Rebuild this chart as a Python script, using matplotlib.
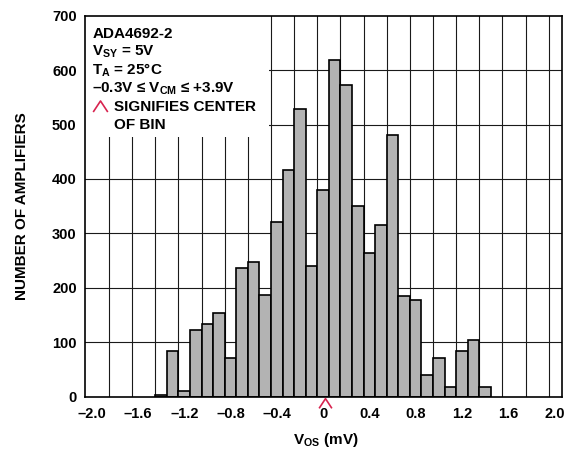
import numpy as np
import matplotlib
matplotlib.use("Agg")
import matplotlib.pyplot as plt
from matplotlib.path import Path
from matplotlib.patches import Rectangle
import matplotlib.transforms as mtransforms

# ---------------- data ----------------
bin_centers = [-1.4, -1.3, -1.2, -1.1, -1.0, -0.9, -0.8, -0.7, -0.6, -0.5,
               -0.4, -0.3, -0.2, -0.1, 0.0, 0.1, 0.2, 0.3, 0.4, 0.5,
               0.6, 0.7, 0.8, 0.9, 1.0, 1.1, 1.2, 1.3, 1.4]
counts = [3, 84, 11, 123, 133, 153, 71, 237, 248, 186,
          321, 417, 529, 241, 379, 618, 572, 351, 264, 316,
          481, 185, 177, 39, 72, 18, 84, 104, 17]
bin_width = 0.1
x_ticks = [-2.0, -1.6, -1.2, -0.8, -0.4, 0.0, 0.4, 0.8, 1.2, 1.6, 2.0]
x_tick_labels = ["–2.0", "–1.6", "–1.2", "–0.8", "–0.4", "0", "0.4", "0.8", "1.2", "1.6", "2.0"]
y_ticks = [0, 100, 200, 300, 400, 500, 600, 700]
info_lines = ["ADA4692-2",
              r"V$_{\mathrm{SY}}$ = 5V",
              r"T$_{\mathrm{A}}$ = 25°C",
              r"–0.3V ≤ V$_{\mathrm{CM}}$ ≤ +3.9V",
              "SIGNIFIES CENTER",
              "OF BIN"]
bin_center_marker = 0.0

# ---------------- style ----------------
plt.rcParams['font.family'] = ['Liberation Sans', 'DejaVu Sans']
plt.rcParams['font.weight'] = 'bold'
plt.rcParams['mathtext.fontset'] = 'custom'
plt.rcParams['mathtext.rm'] = 'Liberation Sans:bold'
plt.rcParams['mathtext.it'] = 'Liberation Sans:bold'
plt.rcParams['mathtext.bf'] = 'Liberation Sans:bold'

W, H = 573, 450
fig = plt.figure(figsize=(W / 100, H / 100), dpi=100)
L, R, T, B = 85, 562, 15.7, 396.7
ax = fig.add_axes([L / W, 1 - B / H, (R - L) / W, (B - T) / H])

ax.set_xlim(-2.058, 2.065)
ax.set_ylim(0, 700)

# grid
for gx in np.arange(-1.85, 2.0, 0.2):
    ax.axvline(gx, color='#1a1a1a', lw=0.8, zorder=0.5)
for gy in y_ticks[1:-1]:
    ax.axhline(gy, color='#1a1a1a', lw=0.8, zorder=0.5)

# white box behind the annotation text
ax.add_patch(Rectangle((-2.1, 477), 1.63, 230, facecolor='white',
                       edgecolor='none', zorder=1.5))

# bars
ax.bar(bin_centers, counts, width=bin_width, color='#b3b3b3',
       edgecolor='black', linewidth=1.2, zorder=2)

# frame
for s in ax.spines.values():
    s.set_linewidth(1.2)
    s.set_color('black')
    s.set_zorder(4)

ax.set_xticks(x_ticks)
ax.set_xticklabels(x_tick_labels)
ax.set_yticks(y_ticks)
ax.tick_params(axis='both', length=0, labelsize=10.5)
ax.tick_params(axis='x', pad=7.5)
ax.tick_params(axis='y', pad=6)

# caret marker
caret = Path([(-1, -0.76), (0, 0.76), (1, -0.76)],
             [Path.MOVETO, Path.LINETO, Path.LINETO])
crimson = '#d8234f'
trans = mtransforms.offset_copy(ax.get_xaxis_transform(), fig=fig,
                                x=1.2, y=-6.2 * 0.72, units='points')
ax.plot([bin_center_marker], [0], marker=caret, markersize=9.2,
        markerfacecolor='none', markeredgecolor=crimson, markeredgewidth=1.2,
        linestyle='none', transform=trans, clip_on=False, zorder=5)

# annotation text
def ax_x(px):
    return (px - L) / (R - L)

def ax_y(py):
    return (B - py) / (B - T)

baselines = [37.7, 56.0, 74.3, 92.7, 111.0, 129.3]
for i, (line, by) in enumerate(zip(info_lines, baselines)):
    xpx = 92.3 if i < 4 else 114.3
    ax.text(ax_x(xpx), ax_y(by), line, transform=ax.transAxes, fontsize=11,
            fontweight='bold', va='baseline', ha='left', zorder=6)

ax.plot([ax_x(99.5)], [ax_y(105.5)], marker=caret, markersize=10.5,
        markerfacecolor='none', markeredgecolor=crimson, markeredgewidth=1.2,
        linestyle='none', transform=ax.transAxes, clip_on=False, zorder=6)

# axis labels
fig.text(22.5 / W, 1 - 205.8 / H, "NUMBER OF AMPLIFIERS", rotation=90,
         ha='center', va='center', fontsize=11, fontweight='bold')
fig.text(326 / W, 1 - 444 / H, r"V$_{\mathrm{OS}}$ (mV)", ha='center',
         va='baseline', fontsize=11, fontweight='bold')

fig.savefig("out.png", dpi=100)
